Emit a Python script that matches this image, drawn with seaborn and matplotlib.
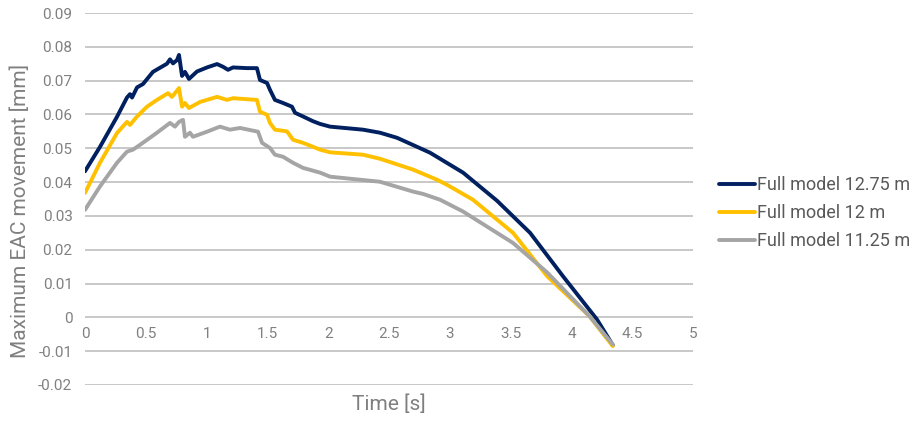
import matplotlib
matplotlib.use("Agg")
import matplotlib.pyplot as plt
import seaborn as sns
import pandas as pd

# ---- data ----
t_1275 = [0.000, 0.123, 0.263, 0.345, 0.370, 0.387, 0.428, 0.477, 0.559, 0.674, 0.699, 0.724, 0.757,
          0.773, 0.798, 0.822, 0.855, 0.921, 1.003, 1.086, 1.135, 1.176, 1.217, 1.332, 1.414, 1.439,
          1.497, 1.521, 1.562, 1.628, 1.702, 1.727, 1.793, 1.875, 1.933, 2.015, 2.286, 2.426, 2.566,
          2.837, 3.109, 3.388, 3.66, 3.93, 4.21, 4.34]
v_1275 = [0.0432, 0.0504, 0.0593, 0.0650, 0.0660, 0.0650, 0.0680, 0.0690, 0.0726, 0.0750, 0.0763, 0.0751,
          0.0761, 0.0776, 0.0714, 0.0726, 0.0705, 0.0727, 0.0739, 0.0749, 0.0741, 0.0732, 0.0739, 0.0737,
          0.0737, 0.0702, 0.0693, 0.0673, 0.0643, 0.0634, 0.0623, 0.0605, 0.0594, 0.0580, 0.0572, 0.0564,
          0.0555, 0.0546, 0.0531, 0.0487, 0.0428, 0.0345, 0.0250, 0.0122, -0.0006, -0.0082]

t_12 = [0.000, 0.123, 0.263, 0.345, 0.370, 0.428, 0.510, 0.592, 0.683, 0.715, 0.740, 0.773, 0.798, 0.822,
        0.855, 0.946, 1.086, 1.168, 1.217, 1.414, 1.439, 1.497, 1.521, 1.562, 1.661, 1.711, 1.793, 1.933,
        2.015, 2.286, 2.426, 2.697, 2.895, 2.977, 3.19, 3.52, 3.80, 4.15, 4.34]
v_12 = [0.0368, 0.0457, 0.0545, 0.0578, 0.0569, 0.0594, 0.0623, 0.0643, 0.0663, 0.0652, 0.0663, 0.0678,
        0.0623, 0.0634, 0.0619, 0.0637, 0.0652, 0.0643, 0.0648, 0.0643, 0.0608, 0.0599, 0.0575, 0.0555,
        0.0550, 0.0525, 0.0516, 0.0496, 0.0488, 0.0481, 0.0469, 0.0437, 0.0407, 0.0392, 0.0348, 0.0250,
        0.0122, 0.0003, -0.0085]

t_1125 = [0.000, 0.123, 0.263, 0.345, 0.395, 0.452, 0.592, 0.699, 0.740, 0.773, 0.806, 0.822, 0.863,
          0.888, 1.003, 1.110, 1.192, 1.275, 1.423, 1.456, 1.521, 1.562, 1.628, 1.711, 1.793, 1.933,
          2.015, 2.426, 2.697, 2.78, 2.919, 3.109, 3.52, 3.80, 4.15, 4.34]
v_1125 = [0.0318, 0.0387, 0.0457, 0.0490, 0.0496, 0.0510, 0.0546, 0.0575, 0.0564, 0.0578, 0.0584, 0.0534,
          0.0546, 0.0534, 0.0549, 0.0564, 0.0555, 0.0560, 0.0549, 0.0516, 0.0501, 0.0481, 0.0475, 0.0457,
          0.0442, 0.0428, 0.0416, 0.0401, 0.0372, 0.0365, 0.0348, 0.0313, 0.0220, 0.0133, 0.0003, -0.0080]

series_names = ["Full model 12.75 m", "Full model 12 m", "Full model 11.25 m"]
x_ticks = [0, 0.5, 1, 1.5, 2, 2.5, 3, 3.5, 4, 4.5, 5]
x_tick_labels = ["0", "0.5", "1", "1.5", "2", "2.5", "3", "3.5", "4", "4.5", "5"]
y_ticks = [-0.02, -0.01, 0, 0.01, 0.02, 0.03, 0.04, 0.05, 0.06, 0.07, 0.08, 0.09]
y_tick_labels = ["-0.02", "-0.01", "0", "0.01", "0.02", "0.03", "0.04", "0.05", "0.06", "0.07", "0.08", "0.09"]

frames = []
for name, t, v in zip(series_names, [t_1275, t_12, t_1125], [v_1275, v_12, v_1125]):
    frames.append(pd.DataFrame({"t": t, "v": v, "series": name}))
df = pd.concat(frames, ignore_index=True)

# ---- plot ----
sns.set_style("white")
plt.rcParams["font.family"] = ["Roboto", "DejaVu Sans"]

fig = plt.figure(figsize=(9.23, 4.21), dpi=100)
ax = fig.add_axes([85 / 923, 1 - 385 / 421, (693 - 85) / 923, (385 - 13) / 421])

palette = {"Full model 12.75 m": "#002060", "Full model 12 m": "#FFC000", "Full model 11.25 m": "#A5A5A5"}
sns.lineplot(data=df, x="t", y="v", hue="series", palette=palette, sort=False, estimator=None,
             linewidth=2.8, ax=ax, legend=True)

ax.set_xlim(0, 5)
ax.set_ylim(-0.02, 0.09)
ax.set_yticks(y_ticks)
ax.set_yticklabels(y_tick_labels)
ax.set_xticks(x_ticks)
ax.set_xticklabels(x_tick_labels)
ax.yaxis.grid(True, color="#BFBFBF", linewidth=1.2)
ax.xaxis.grid(False)
ax.set_axisbelow(True)
for s in ["top", "right", "left"]:
    ax.spines[s].set_visible(False)
ax.spines["bottom"].set_position(("data", 0))
ax.spines["bottom"].set_visible(False)
ax.tick_params(axis="both", length=0, labelsize=11, labelcolor="#808080")
ax.tick_params(axis="y", pad=9)
ax.tick_params(axis="x", pad=7)

ax.set_xlabel("")
fig.text((350 + 428) / 2 / 923, 1 - 404 / 421, "Time [s]", ha="center", va="center",
         fontsize=15, color="#7F7F7F")
ax.set_ylabel("Maximum EAC movement [mm]", fontsize=15, color="#7F7F7F")
ax.yaxis.set_label_coords(30 / 923, 0.5, transform=fig.transFigure)

handles, labels = ax.get_legend_handles_labels()
ax.get_legend().remove()
leg = fig.legend(handles, labels, loc="center left", bbox_to_anchor=(719 / 923, 1 - 213 / 421),
                 frameon=False, fontsize=13, handlelength=2.0, handletextpad=0.1, labelspacing=0.55,
                 borderaxespad=0, borderpad=0)
for txt in leg.get_texts():
    txt.set_color("#595959")

fig.savefig("out.png", dpi=100)
